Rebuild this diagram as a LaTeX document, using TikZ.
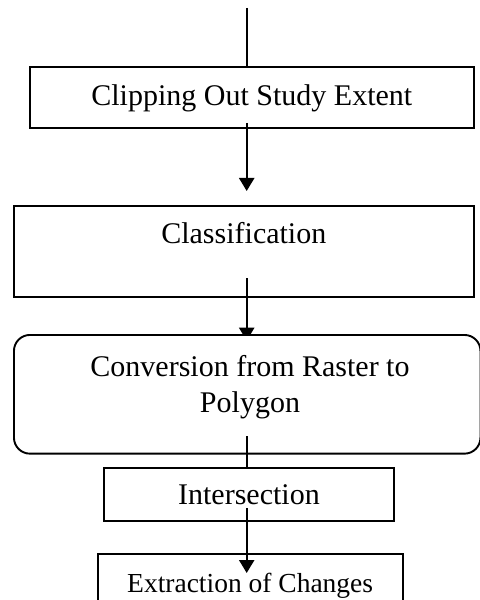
\documentclass[tikz,border=0pt]{standalone}
\usepackage{fontspec}
\setmainfont{Liberation Serif}
\usetikzlibrary{arrows.meta}
\begin{document}
\begin{tikzpicture}[x=1bp, y=-1bp,
  box/.style={draw, line width=1.9bp, fill=white, rectangle,
    inner xsep=0pt, inner ysep=0pt, anchor=north west,
    font=\fontsize{30bp}{36bp}\selectfont},
  boxtext/.style={inner sep=0pt, align=center,
    font=\fontsize{30bp}{36bp}\selectfont},
  flow/.style={line width=2.3bp},
  flowarrow/.style={flow, -{Triangle[width=15bp,length=13bp]}}]

% page frame
\useasboundingbox (0,0) rectangle (480,600);
\clip (0,0) rectangle (480,600);
\fill[white] (0,0) rectangle (480,600);

% free ends of the connectors
\coordinate (in) at (246.7,8);
\coordinate (a1) at (246.7,123);
\coordinate (a2) at (246.7,278);
\coordinate (a2end) at (246.7,334);
\coordinate (a3) at (246.7,436);
\coordinate (a3end) at (246.7,467);
\coordinate (a4) at (246.7,508);

% processing steps
\node[box, minimum width=444.3bp, text height=39bp, text depth=22bp]
  (clip) at (28.7,66) {Clipping Out Study Extent};
\node[box, minimum width=460.3bp, text height=38bp, text depth=53bp]
  (classify) at (12.7,205) {Classification};

\draw[flow] (in) -- (in |- clip.north);
\draw[flowarrow, shorten >=14bp] (a1) -- (a1 |- classify.north);
\draw[flowarrow, shorten >=-6.7bp] (a2) -- (a2end);

\node[box, rounded corners=16bp, minimum width=466.5bp, minimum height=118.7bp]
  (convert) at (13,334) {};
\node[boxtext] (convert-text) at (250,387) {Conversion from Raster to\\Polygon};

\draw[flow] (a3) -- (a3end);

\node[box, minimum width=290bp, text height=37bp, text depth=16bp]
  (intersect) at (103,467) {Intersection};
\node[box, minimum width=305bp, text height=38.7bp, text depth=21.3bp,
  font=\fontsize{27.5bp}{33bp}\selectfont]
  (extract) at (96.7,553) {Extraction of Changes};

\draw[flowarrow, shorten >=-20bp] (a4) -- (a4 |- extract.north);
\end{tikzpicture}
\end{document}
